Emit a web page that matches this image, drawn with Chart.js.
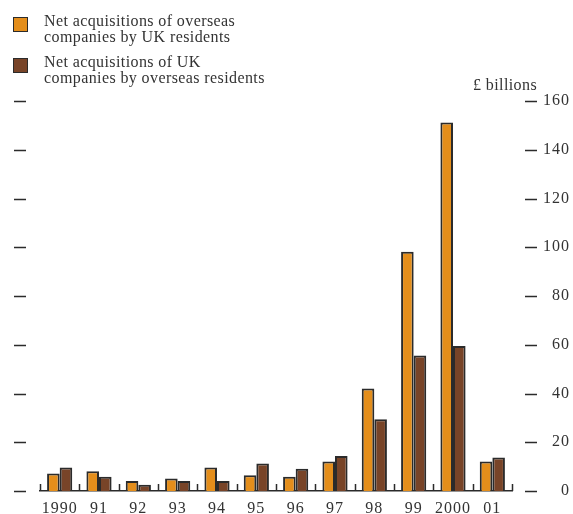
<!DOCTYPE html>
<html>
<head>
<meta charset="utf-8">
<script src="https://cdn.jsdelivr.net/npm/chart.js@4/dist/chart.umd.min.js"></script>
<style>
  html, body { margin: 0; padding: 0; background: #fff; }
  #wrap { position: relative; width: 573px; height: 514px; }
  #acqChart { position: absolute; left: 0; top: 0; }
  .legend-item { position: absolute; left: 13px; font: 16px 'Liberation Serif', serif; letter-spacing: 0.4px; color: #333; line-height: 16px; }
  .legend-item .box { position: absolute; left: 0; top: 4px; width: 13px; height: 13px; border: 1.5px solid #2b2b2b; }
  .legend-item .txt { margin-left: 31px; }
  #unit { position: absolute; left: 473px; top: 76px; font: 16px 'Liberation Serif', serif; letter-spacing: 0.4px; color: #333; }
</style>
</head>
<body>
<div id="wrap">
  <canvas id="acqChart" width="573" height="514"></canvas>
  <div class="legend-item" id="leg1" style="top:13px"><div class="box"></div><div class="txt"></div></div>
  <div class="legend-item" id="leg2" style="top:54px"><div class="box"></div><div class="txt"></div></div>
  <div id="unit">£ billions</div>
</div>
<script>
const years = ['1990', '91', '92', '93', '94', '95', '96', '97', '98', '99', '2000', '01'];
const ukAbroad = [7.2, 8.1, 4.1, 5.1, 9.6, 6.5, 5.8, 12.1, 42.1, 98.2, 151.2, 12.1];
const foreignInUk = [9.6, 5.8, 2.6, 4.1, 4.1, 11.3, 9.1, 14.4, 29.4, 55.6, 59.5, 13.7];
const seriesNames = [
  ['Net acquisitions of overseas', 'companies by UK residents'],
  ['Net acquisitions of UK', 'companies by overseas residents']
];
const yTicks = [0, 20, 40, 60, 80, 100, 120, 140, 160];

const orange = '#e48e1b';
const brown = '#784428';
const ink = '#2b2b2b';

// html legend
[['leg1', orange], ['leg2', brown]].forEach(([id, col], i) => {
  const el = document.getElementById(id);
  el.querySelector('.box').style.background = col;
  el.querySelector('.txt').innerHTML = seriesNames[i].join('<br>');
});

// upward ticks on the baseline, and the little dashes either side
const axisMarks = {
  id: 'axisMarks',
  beforeDraw(chart) {
    chart.ctx.letterSpacing = '1px';
  },
  afterDraw(chart) {
    const {ctx, chartArea} = chart;
    const x = chart.scales.x;
    const y = chart.scales.y;
    ctx.save();
    ctx.strokeStyle = ink;
    ctx.lineWidth = 1.5;
    const w = x.getPixelForValue(1) - x.getPixelForValue(0);
    ctx.beginPath();
    for (let i = 0; i <= years.length; i++) {
      const px = Math.round(x.getPixelForValue(0) - w / 2 + i * w) + 0.5;
      ctx.moveTo(px, chartArea.bottom);
      ctx.lineTo(px, chartArea.bottom - 7);
    }
    ctx.stroke();
    ctx.lineWidth = 1.3;
    ctx.beginPath();
    yTicks.forEach(v => {
      const py = Math.round(y.getPixelForValue(v)) + 0.5;
      ctx.moveTo(chartArea.left - 26, py);
      ctx.lineTo(chartArea.left - 14, py);
      ctx.moveTo(chartArea.right + 13, py);
      ctx.lineTo(chartArea.right + 25, py);
    });
    ctx.stroke();
    ctx.restore();
  }
};

new Chart(document.getElementById('acqChart'), {
  type: 'bar',
  data: {
    labels: years,
    datasets: [
      { label: seriesNames[0].join(' '), data: ukAbroad, backgroundColor: orange, borderColor: ink, borderWidth: 2, borderSkipped: 'bottom' },
      { label: seriesNames[1].join(' '), data: foreignInUk, backgroundColor: brown, borderColor: ink, borderWidth: 2, borderSkipped: 'bottom' }
    ]
  },
  options: {
    responsive: false,
    animation: false,
    layout: { padding: { top: 101, right: 3, left: 0, bottom: 0 } },
    plugins: { legend: { display: false }, tooltip: { enabled: false } },
    datasets: { bar: { categoryPercentage: 0.64, barPercentage: 1.0 } },
    scales: {
      x: {
        grid: { display: false },
        border: { display: true, color: ink, width: 1.5 },
        ticks: { color: '#333', font: { family: 'Liberation Serif', size: 16 }, padding: 0, maxRotation: 0, autoSkip: false },
        afterFit: s => { s.height = 23; }
      },
      y: {
        position: 'right',
        min: 0, max: 160,
        afterBuildTicks: s => { s.ticks = yTicks.map(v => ({ value: v })); },
        grid: { display: false },
        border: { display: false },
        ticks: { color: '#333', crossAlign: 'far', font: { family: 'Liberation Serif', size: 16 } },
        afterFit: s => { s.width = 58; }
      },
      yl: {
        position: 'left',
        min: 0, max: 160,
        grid: { display: false },
        border: { display: false },
        ticks: { display: false },
        afterFit: s => { s.width = 40; }
      }
    }
  },
  plugins: [axisMarks]
});
</script>
</body>
</html>
